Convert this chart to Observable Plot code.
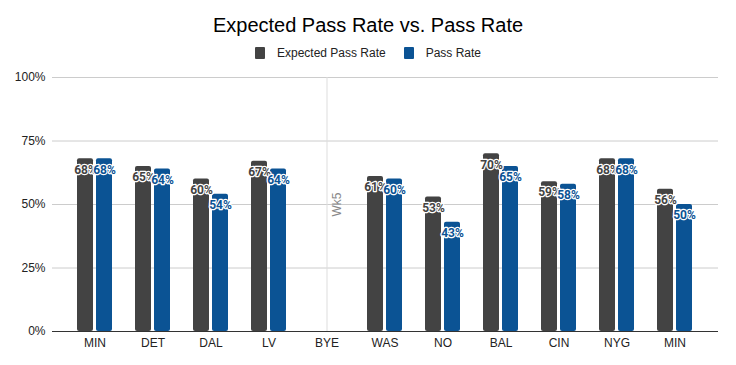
<!DOCTYPE html>
<html>
<head>
<meta charset="utf-8">
<script src="https://cdn.jsdelivr.net/npm/d3@7"></script>
<script src="https://cdn.jsdelivr.net/npm/@observablehq/plot@0.6"></script>
<style>
  html, body { margin: 0; padding: 0; background: #fff; }
  #wrap { position: relative; width: 736px; height: 365px; font-family: "Liberation Sans", Arial, sans-serif; }
  #title { position: absolute; top: 14px; left: 0; width: 736px; text-align: center; font-size: 20px; line-height: 22px; color: #000; }
  #legend { position: absolute; top: 46px; left: 0; width: 736px; display: flex; justify-content: center; align-items: center; font-size: 12px; color: #222; }
  .item { display: flex; align-items: center; margin: 0 9px; }
  .sw { width: 10px; height: 12px; border-radius: 1px; margin-right: 12px; }
  #chart { position: absolute; top: 0; left: 0; }
</style>
</head>
<body>
<div id="wrap">
  <div id="chart"></div>
  <div id="title">Expected Pass Rate vs. Pass Rate</div>
  <div id="legend"></div>
</div>
<script>
const teams = ["MIN", "DET", "DAL", "LV", "BYE", "WAS", "NO", "BAL", "CIN", "NYG", "MIN"];
const expectedRate = [0.68, 0.65, 0.60, 0.67, null, 0.61, 0.53, 0.70, 0.59, 0.68, 0.56];
const passRate = [0.68, 0.64, 0.54, 0.64, null, 0.60, 0.43, 0.65, 0.58, 0.68, 0.50];
const seriesNames = ["Expected Pass Rate", "Pass Rate"];
const seriesColors = ["#434343", "#0b5394"];
const yTicks = [0, 0.25, 0.5, 0.75, 1];
const byeIndex = 4;
const byeNote = "Wk5";

const idx = d3.range(teams.length);
const expData = idx.filter(i => expectedRate[i] != null).map(i => ({i, v: expectedRate[i]}));
const passData = idx.filter(i => passRate[i] != null).map(i => ({i, v: passRate[i]}));
const pct = d3.format(".0%");

// legend
const legend = document.getElementById("legend");
seriesNames.forEach((n, k) => {
  const it = document.createElement("div");
  it.className = "item";
  it.innerHTML = `<div class="sw" style="background:${seriesColors[k]}"></div><span>${n}</span>`;
  legend.appendChild(it);
});

const half = 18;
const chart = Plot.plot({
  width: 736,
  height: 365,
  marginTop: 77,
  marginBottom: 34,
  marginLeft: 52,
  marginRight: 18,
  style: {fontFamily: "'Liberation Sans', Arial, sans-serif", fontSize: "12px", color: "#222", background: "transparent"},
  x: {type: "band", domain: idx, paddingInner: 0.388, paddingOuter: 0.357},
  y: {domain: [0, 1]},
  marks: [
    Plot.gridY(yTicks, {stroke: "#cccccc", strokeOpacity: 1}),
    Plot.ruleX([byeIndex], {x: d => d, y1: 0, y2: 1, stroke: "#dddddd", strokeOpacity: 1}),
    Plot.text([byeIndex], {x: d => d, y: 0.5, text: () => byeNote, rotate: -90, dx: 10, fill: "#888", fontSize: 12}),
    Plot.barY(expData, {x: "i", y: "v", fill: seriesColors[0], insetRight: half + 1, rx: 2}),
    Plot.barY(passData, {x: "i", y: "v", fill: seriesColors[1], insetLeft: half + 1, rx: 2}),
    Plot.ruleY([0], {stroke: "#333", strokeWidth: 1.2}),
    Plot.axisY(yTicks, {tickSize: 0, tickPadding: 7, tickFormat: d3.format(".0%"), label: null, fill: "#222", fontSize: 12}),
    Plot.axisX({tickSize: 0, tickPadding: 7, tickFormat: i => teams[i], label: null, fill: "#222", fontSize: 12}),
    Plot.text(expData, {x: "i", y: "v", text: d => pct(d.v), dx: -9.5, dy: 11, fill: seriesColors[0], stroke: "white", strokeWidth: 2.5, fontSize: 12, fontFamily: "Roboto", fontWeight: "bold"}),
    Plot.text(passData, {x: "i", y: "v", text: d => pct(d.v), dx: 9.5, dy: 11, fill: seriesColors[1], stroke: "white", strokeWidth: 2.5, fontSize: 12, fontFamily: "Roboto", fontWeight: "bold"})
  ]
});
document.getElementById("chart").appendChild(chart);
</script>
</body>
</html>
